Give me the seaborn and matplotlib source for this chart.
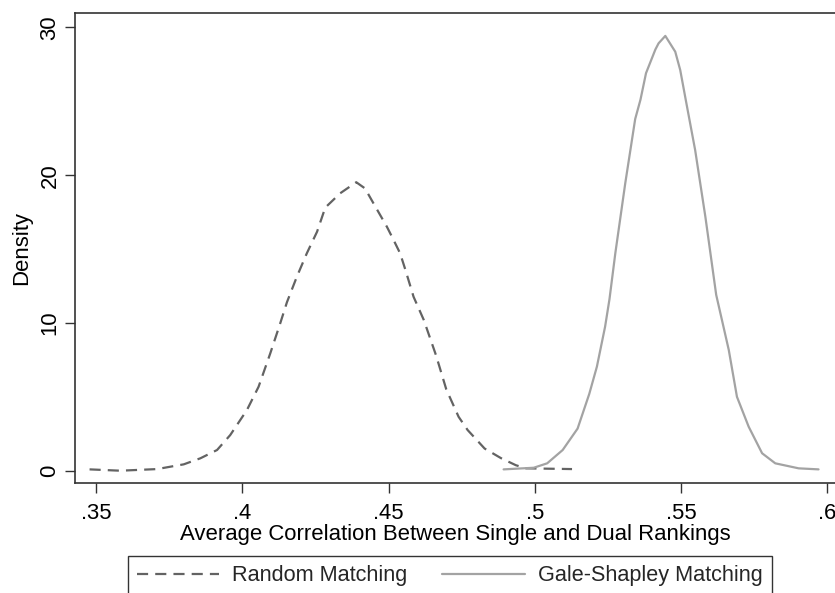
import matplotlib
matplotlib.use("Agg")
import matplotlib.pyplot as plt
import seaborn as sns
import pandas as pd

# ---- data ----
random_x = [0.3477, 0.3582, 0.3708, 0.3753, 0.3799, 0.3856, 0.3913, 0.3958,
            0.4015, 0.4055, 0.4095, 0.4129, 0.4152, 0.4186, 0.4220, 0.4255,
            0.4283, 0.4334, 0.4389, 0.4419, 0.4448, 0.4494, 0.4517, 0.4539,
            0.4557, 0.4585, 0.4620, 0.4662, 0.4697, 0.4739, 0.4770, 0.4828,
            0.4884, 0.4935, 0.4970, 0.5127]
random_y = [0.09, 0.00, 0.11, 0.27, 0.43, 0.84, 1.40, 2.41,
            4.10, 5.68, 7.94, 9.97, 11.40, 13.13, 14.71, 16.17,
            17.80, 18.77, 19.52, 19.10, 18.09, 16.50, 15.60, 14.71,
            13.60, 11.77, 10.20, 7.80, 5.50, 3.65, 2.75, 1.50,
            0.85, 0.37, 0.16, 0.11]

gs_x = [0.4893, 0.4996, 0.5042, 0.5095, 0.5146, 0.5186, 0.5212, 0.5240,
        0.5255, 0.5275, 0.5309, 0.5343, 0.5361, 0.5380, 0.5412, 0.5423,
        0.5446, 0.5480, 0.5497, 0.5516, 0.5548, 0.5583, 0.5620, 0.5663,
        0.5691, 0.5731, 0.5777, 0.5822, 0.5902, 0.5970]
gs_y = [0.09, 0.20, 0.50, 1.40, 2.85, 5.20, 7.04, 9.74,
        11.60, 14.71, 19.45, 23.80, 25.10, 26.90, 28.50, 28.92,
        29.42, 28.35, 27.11, 25.08, 21.70, 17.18, 11.90, 8.17,
        5.00, 2.98, 1.18, 0.50, 0.16, 0.09]

series_labels = ["Random Matching", "Gale-Shapley Matching"]
x_ticks = [0.35, 0.40, 0.45, 0.50, 0.55, 0.60]
x_tick_labels = [".35", ".4", ".45", ".5", ".55", ".6"]
y_ticks = [0, 10, 20, 30]
y_tick_labels = ["0", "10", "20", "30"]

# ---- style ----
sns.set_theme(style="white")
plt.rcParams["font.family"] = ["Liberation Sans", "DejaVu Sans"]
FS = 15.95
LFS = 15.6

W, H = 835, 593
fig = plt.figure(figsize=(W / 100, H / 100), dpi=100)
ax = fig.add_axes([75 / W, 1 - 483 / H, 1 - 75 / W, (483 - 13) / H])

df_r = pd.DataFrame({"x": random_x, "y": random_y})
df_g = pd.DataFrame({"x": gs_x, "y": gs_y})

sns.lineplot(data=df_r, x="x", y="y", ax=ax, color="#636363", lw=1.6,
             estimator=None, sort=False, label=series_labels[0])
sns.lineplot(data=df_g, x="x", y="y", ax=ax, color="#a3a3a3", lw=1.6,
             estimator=None, sort=False, label=series_labels[1])
lines = ax.get_lines()
lines[0].set_linestyle((0, (5, 3.2)))
if ax.get_legend() is not None:
    ax.get_legend().remove()

ax.set_xlim(0.34272, 0.60263)
ax.set_ylim(-0.832, 30.97)
ax.set_xticks(x_ticks)
ax.set_xticklabels(x_tick_labels)
ax.set_yticks(y_ticks)
ax.set_yticklabels(y_tick_labels)

for s in ["left", "bottom", "top"]:
    ax.spines[s].set_visible(True)
    ax.spines[s].set_color("#333333")
    ax.spines[s].set_linewidth(1.2)
ax.spines["right"].set_visible(False)

ax.tick_params(axis="both", which="major", direction="out", length=7,
               width=1.0, color="#333333", labelsize=FS, labelcolor="black",
               bottom=True, left=True, top=False, right=False)
ax.tick_params(axis="x", pad=7.5)
ax.tick_params(axis="y", pad=3.5, labelrotation=90)
for t in ax.get_yticklabels():
    t.set_va("center")

ax.set_xlabel("Average Correlation Between Single and Dual Rankings",
              fontsize=FS, color="black", labelpad=0)
ax.set_ylabel("Density", fontsize=FS, color="black", labelpad=5)
ax.grid(False)
ax.set_facecolor("white")
fig.patch.set_facecolor("white")

handles = lines[:2]
leg = fig.legend(handles, series_labels, loc="upper left",
                 bbox_to_anchor=(128 / W, 1 - 556 / H),
                 ncol=2, fontsize=LFS, frameon=True, fancybox=False,
                 handlelength=3.8, handletextpad=0.6, columnspacing=1.6,
                 borderpad=0.42, borderaxespad=0)
leg.get_frame().set_edgecolor("black")
leg.get_frame().set_linewidth(1.0)
leg.get_frame().set_facecolor("white")

fig.savefig("out.png", dpi=100)
